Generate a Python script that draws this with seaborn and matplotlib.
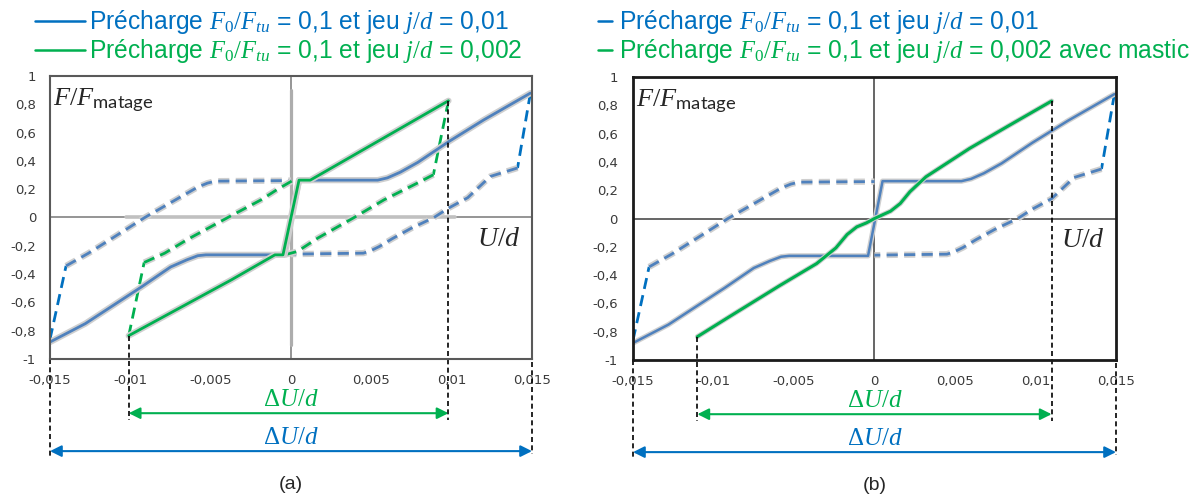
import matplotlib.pyplot as plt
import matplotlib.patheffects as pe
import seaborn as sns

# courbes (U/d, F/F_matage)
blue_load_u = [-0.0150, -0.0128, -0.0093, -0.0075, -0.0065, -0.0058, -0.0053, -0.0004,
               0.0005, 0.0054, 0.0060, 0.0068, 0.0079, 0.0098, 0.0120, 0.0149]
blue_load_f = [-0.88, -0.75, -0.49, -0.35, -0.30, -0.27, -0.264, -0.264,
               0.264, 0.264, 0.28, 0.32, 0.39, 0.535, 0.69, 0.879]

blue_back_r_u = [0.0141, 0.0124, 0.0110, 0.0098, 0.0089, 0.0075, 0.0063, 0.0055, 0.0049, 0.0045, 0.0000]
blue_back_r_f = [0.35, 0.29, 0.14, 0.066, 0.0, -0.075, -0.15, -0.205, -0.238, -0.252, -0.259]
blue_drop_r_u = [0.0149, 0.0141]
blue_drop_r_f = [0.879, 0.35]

blue_back_l_u = [-0.0140, -0.0126, -0.0109, -0.0091, -0.0070, -0.0058, -0.0052, -0.0047, 0.0000]
blue_back_l_f = [-0.342, -0.252, -0.13, 0.0, 0.137, 0.215, 0.243, 0.257, 0.261]
blue_drop_l_u = [-0.0150, -0.0140]
blue_drop_l_f = [-0.86, -0.342]

green_load_u = [-0.0101, -0.0037, -0.0010, -0.0005, 0.0005, 0.0012, 0.0098]
green_load_f = [-0.835, -0.44, -0.264, -0.264, 0.264, 0.264, 0.825]

green_back_r_u = [0.0098, 0.00886, 0.00786, 0.00579, 0.00393, 0.00166, 0.0004, -0.0004]
green_back_r_f = [0.825, 0.302, 0.243, 0.125, 0.0, -0.146, -0.24, -0.264]
green_back_l_u = [-0.0101, -0.00914, -0.00786, -0.00641, -0.00393, -0.00186, -0.00083, 0.0001]
green_back_l_f = [-0.835, -0.318, -0.252, -0.153, 0.0, 0.125, 0.2, 0.261]

mastic_u = [-0.0110, -0.0090, -0.0059, -0.0036, -0.0024, -0.0017, -0.0011, -0.0005, 0.0,
            0.0010, 0.0016, 0.0022, 0.0032, 0.0059, 0.0084, 0.0110]
mastic_f = [-0.835, -0.693, -0.475, -0.319, -0.208, -0.113, -0.059, -0.031, 0.0,
            0.052, 0.106, 0.189, 0.295, 0.495, 0.66, 0.83]

xticks = [-0.015, -0.01, -0.005, 0, 0.005, 0.01, 0.015]
xtick_labels = ['-0,015', '-0,01', '-0,005', '0', '0,005', '0,01', '0,015']
yticks = [-1, -0.8, -0.6, -0.4, -0.2, 0, 0.2, 0.4, 0.6, 0.8, 1]
ytick_labels = ['-1', '-0,8', '-0,6', '-0,4', '-0,2', '0', '0,2', '0,4', '0,6', '0,8', '1']

leg_blue = r'Précharge $F_0/F_{tu}$ = 0,1 et jeu $j/d$ = 0,01'
leg_green_a = r'Précharge $F_0/F_{tu}$ = 0,1 et jeu $j/d$ = 0,002'
leg_green_b = r'Précharge $F_0/F_{tu}$ = 0,1 et jeu $j/d$ = 0,002 avec mastic'

STEEL = '#4F81BD'
BLUE = '#0070C0'
GREEN = '#00B050'
GLOW = '#CFCFCF'

sns.set_style('white')
plt.rcParams['font.family'] = ['Liberation Sans', 'DejaVu Sans']
plt.rcParams['mathtext.fontset'] = 'custom'
plt.rcParams['mathtext.it'] = 'Liberation Serif:italic'
plt.rcParams['mathtext.rm'] = 'Liberation Serif'
plt.rcParams['mathtext.sf'] = 'Lato'

fig = plt.figure(figsize=(11.92, 4.97), dpi=100)
ax_a = fig.add_axes([0.04195, 0.27767, 0.40436, 0.56942])
ax_b = fig.add_axes([0.53104, 0.27565, 0.40520, 0.56942])


def curve(ax, u, f, color, dashed=False, glow=True, lw=2.0, glow_w=2.5):
    kw = dict(x=u, y=f, ax=ax, color=color, lw=lw, sort=False, estimator=None)
    if dashed:
        kw['linestyle'] = (0, (4, 2.3))
    if glow:
        kw['path_effects'] = [pe.Stroke(linewidth=lw + glow_w, foreground=GLOW), pe.Normal()]
    sns.lineplot(**kw)


def setup(ax, frame_col, frame_lw, ypad, zero_col):
    ax.set_xlim(-0.015, 0.015)
    ax.set_ylim(-1, 1)
    ax.set_xticks(xticks)
    ax.set_xticklabels(xtick_labels, fontfamily='DejaVu Sans')
    ax.set_yticks(yticks)
    ax.set_yticklabels(ytick_labels, fontfamily='DejaVu Sans')
    ax.tick_params(axis='x', length=0, labelsize=9.5, labelcolor='#3A3A3A', pad=11)
    ax.tick_params(axis='y', length=0, labelsize=9.5, labelcolor='#3A3A3A', pad=ypad)
    ax.set_xlabel('')
    ax.set_ylabel('')
    for s in ax.spines.values():
        s.set_color(frame_col)
        s.set_linewidth(frame_lw)
    ax.axhline(0, color=zero_col, lw=1.3, zorder=0.5)
    ax.axvline(0, color=zero_col, lw=1.3, zorder=0.5)
    ax.text(-0.0148, 0.83, r'$F/F_{\mathsf{matage}}$', fontsize=19, va='center', ha='left')
    ax.text(0.0143, -0.15, r'$U/d$', fontsize=20, va='center', ha='right')


def extents(ax, xg0, yg0, xg1, yg1, label):
    dash = dict(color='k', lw=1.2, linestyle=(0, (3, 2)), clip_on=False)
    ax.plot([-0.015, -0.015], [-1, -1.708], **dash)
    ax.plot([0.015, 0.015], [-1.02, -1.673], **dash)
    ax.plot([xg0, xg0], [yg0, -1.432], **dash)
    ax.plot([xg1, xg1], [yg1, -1.432], **dash)
    for x0, x1, y, col, ty in [(xg0, xg1, -1.383, GREEN, -1.28), (-0.015, 0.015, -1.651, BLUE, -1.55)]:
        ax.annotate('', xy=(x1, y), xytext=(x0, y), annotation_clip=False,
                    arrowprops=dict(arrowstyle='<|-|>', color=col, lw=1.5,
                                    mutation_scale=17, shrinkA=0, shrinkB=0))
        ax.text(0, ty, r'$\Delta U/d$', color=col, fontsize=18, ha='center', va='center', clip_on=False)
    ax.text(0, -1.885, label, fontsize=14, ha='center', va='center', clip_on=False)


# ---- (a)
setup(ax_a, '#595959', 1.5, 10, '#8C8C8C')
ax_a.plot([-0.0103, 0.0102], [0, 0], color='#C0C0C0', lw=2.6, zorder=0.8)
ax_a.plot([0, 0], [-0.9, 0.9], color='#ADADAD', lw=2.3, zorder=0.8)
curve(ax_a, blue_drop_l_u, blue_drop_l_f, BLUE, dashed=True, glow=False)
curve(ax_a, blue_back_l_u, blue_back_l_f, STEEL, dashed=True)
curve(ax_a, blue_drop_r_u, blue_drop_r_f, BLUE, dashed=True, glow=False)
curve(ax_a, blue_back_r_u, blue_back_r_f, STEEL, dashed=True)
curve(ax_a, green_back_l_u[:2], green_back_l_f[:2], GREEN, dashed=True, glow=False)
curve(ax_a, green_back_l_u[1:], green_back_l_f[1:], GREEN, dashed=True)
curve(ax_a, green_back_r_u[:2], green_back_r_f[:2], GREEN, dashed=True, glow=False)
curve(ax_a, green_back_r_u[1:], green_back_r_f[1:], GREEN, dashed=True)
curve(ax_a, blue_load_u, blue_load_f, STEEL)
curve(ax_a, green_load_u, green_load_f, GREEN)
extents(ax_a, green_load_u[0], green_load_f[0], green_load_u[-1], green_load_f[-1], '(a)')

# ---- (b)
setup(ax_b, '#1A1A1A', 2.0, 11, '#595959')
curve(ax_b, blue_drop_l_u, blue_drop_l_f, BLUE, dashed=True, glow=False)
curve(ax_b, blue_back_l_u, blue_back_l_f, STEEL, dashed=True)
curve(ax_b, blue_drop_r_u, blue_drop_r_f, BLUE, dashed=True, glow=False)
curve(ax_b, blue_back_r_u, blue_back_r_f, STEEL, dashed=True)
curve(ax_b, blue_load_u, blue_load_f, STEEL, lw=1.8, glow_w=2.0)
curve(ax_b, mastic_u, mastic_f, GREEN, lw=2.2, glow_w=1.5)
extents(ax_b, mastic_u[0], mastic_f[0], mastic_u[-1], mastic_f[-1], '(b)')

# ---- légendes
W, H = 1192.0, 497.0
for (lx0, lx1, tx), labels in [((35, 85, 89), (leg_blue, leg_green_a)),
                               ((598, 612, 619), (leg_blue, leg_green_b))]:
    for row, (txt, col) in enumerate(zip(labels, (BLUE, GREEN))):
        yb = 29 + 29 * row
        fig.add_artist(plt.Line2D([lx0 / W, lx1 / W], [1 - (yb - 8) / H] * 2, color=col, lw=1.8))
        fig.text(tx / W, 1 - yb / H, txt, color=col, fontsize=17.7, va='baseline', ha='left')

fig.savefig('out.png', dpi=100)
